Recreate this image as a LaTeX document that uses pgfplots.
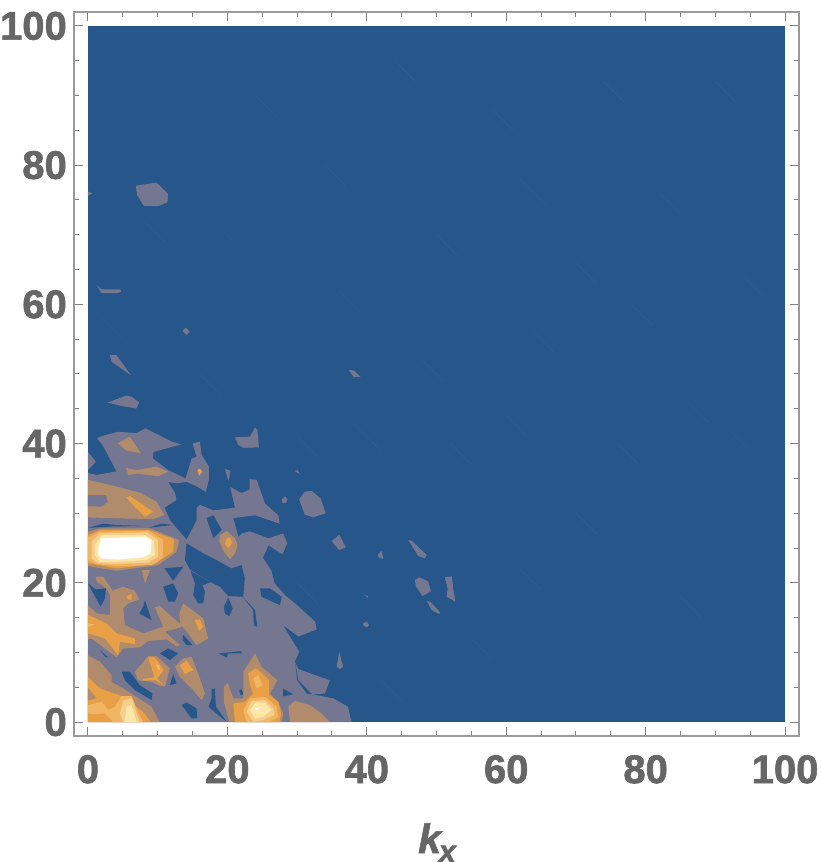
\documentclass[border=0pt]{standalone}
\usepackage{fontspec}
\setmainfont{Liberation Sans}[BoldFeatures={FakeBold=1.5},BoldItalicFeatures={FakeBold=1.5}]
\usepackage{pgfplots}
\pgfplotsset{compat=1.18}
\definecolor{framec}{HTML}{9A9A9A}
\definecolor{tickc}{HTML}{808080}
\definecolor{labelc}{HTML}{666666}
\definecolor{lev0}{HTML}{27568B}
\definecolor{lev1}{HTML}{75768F}
\definecolor{lev2}{HTML}{B08C6C}
\definecolor{lev3}{HTML}{E89F45}
\definecolor{lev4}{HTML}{F0B565}
\definecolor{lev5}{HTML}{F7CE8C}
\definecolor{lev6}{HTML}{FDE7A8}
\definecolor{lev7}{HTML}{FFFFFF}
\pgfplotsset{
  l0/.style={fill=lev0,draw=none,mark=none},
  l1/.style={fill=lev1,draw=none,mark=none},
  l2/.style={fill=lev2,draw=none,mark=none},
  l3/.style={fill=lev3,draw=none,mark=none},
  l4/.style={fill=lev4,draw=none,mark=none},
  l5/.style={fill=lev5,draw=none,mark=none},
  l6/.style={fill=lev6,draw=none,mark=none},
  l7/.style={fill=lev7,draw=none,mark=none},
}
\begin{document}
\begin{tikzpicture}
\path[use as bounding box] (-74pt,-126pt) rectangle (746pt,736pt);
\begin{axis}[
  at={(0pt,0pt)}, anchor=south west,
  scale only axis,
  width=725pt, height=724pt,
  xmin=-2, xmax=102, ymin=-2, ymax=102,
  xtick={0,20,...,100}, ytick={0,20,...,100},
  minor tick num=3,
  tick align=inside,
  major tick length=9pt, minor tick length=5.5pt,
  axis line style={draw=framec,line width=1.4pt},
  every tick/.style={draw=tickc,line width=1pt},
  /pgf/number format/assume math mode=true,
  tick label style={font=\fontsize{40}{44}\selectfont\bfseries,text=labelc,inner sep=0pt},
  xticklabel style={yshift=-19pt},
  yticklabel style={xshift=-7pt},
  xlabel={\textit{k}\kern-4pt\raisebox{-9pt}{\fontsize{31}{31}\selectfont\textit{x}}},
  xlabel style={font=\fontsize{41}{44}\selectfont\bfseries,text=labelc,at={(axis description cs:0.4745,-0.1616)},anchor=base west,inner sep=0pt},
  unbounded coords=jump,
]
% background level
\addplot[l0] coordinates {(0,0)(100,0)(100,100)(0,100)} --cycle;
% faint diagonal streaks of the shading
\addplot[white,opacity=0.05,line width=0.5pt,mark=none] coordinates {
(30,41)(33,38) (nan,nan) (38,43)(42,39) (nan,nan) (52,40)(55,37) (nan,nan) (60,44)(63,41) (nan,nan)
(8,72)(11,69) (nan,nan) (2,58)(5,55) (nan,nan) (24,90)(27,87) (nan,nan) (44,95)(47,92) (nan,nan)
(62,78)(66,74) (nan,nan) (78,60)(81,57) (nan,nan) (90,92)(93,89) (nan,nan) (70,30)(73,27) (nan,nan)
(85,18)(88,15) (nan,nan) (55,12)(58,9) (nan,nan) (42,6)(45,3) (nan,nan) (92,42)(95,39) (nan,nan)
(36,62)(39,59) (nan,nan) (50,70)(53,67) (nan,nan) (74,92)(77,89) (nan,nan) (16,50)(19,47) (nan,nan)
(64,56)(67,53) (nan,nan) (30,20)(33,17) (nan,nan) (82,76)(85,73) (nan,nan) (94,64)(97,61) (nan,nan)
(20,70)(23,67) (nan,nan) (34,80)(37,77) (nan,nan) (58,88)(61,85) (nan,nan) (70,66)(73,63) (nan,nan)
(48,52)(51,49) (nan,nan) (86,46)(89,43) (nan,nan) (76,40)(79,37) (nan,nan) (62,22)(65,19) (nan,nan)
};
% main lowest contour
\addplot[l1] coordinates {(0,0)(37.8,0)(37.3,2.2)(35.2,3.4)(32.1,4.0)(34.0,4.1)(34.7,6.0)(30.2,7.6)(29.7,8.7)(30.3,10.1)(28.0,13.9)(30.2,12.3)(32.8,13.3)(32.6,14.4)(30.0,16.8)(28.3,18.2)(26.8,19.9)(26.3,21.8)(25.1,23.6)(25.9,25.4)(27.9,24.1)(28.6,25.7)(28.0,27.1)(25.9,26.4)(23.2,27.4)(22.1,27.1)(21.6,26.6)(20.85,29.3)(24.0,29.7)(27.5,28.5)(27.3,29.7)(25.4,31.4)(24.2,34.8)(23.2,34.9)(23.2,33.4)(22.0,32.9)(20.4,33.8)(21.1,30.8)(18.0,30.4)(16.07,31.2)(15.6,30.7)(15.6,29.0)(14.15,26.2)(11.76,29.0)(11.0,30.8)(12.7,31.9)(12.5,32.9)(11.5,34.5)(12.7,34.3)(14.15,34.5)(15.35,34.0)(16.9,33.1)(17.35,34.8)(17.35,36.7)(16.3,38.4)(16.06,40.3)(15.0,40.0)(15.6,38.1)(14.9,37.9)(14.0,35.0)(11.5,36.2)(9.3,37.9)(9.4,38.8)(13.4,39.9)(12.0,40.3)(8.2,42.2)(7.0,41.5)(4.35,41.7)(2.4,41.2)(1.3,40.8)(2.2,39.6)(4.1,36.0)(1.15,35.5)(0,35.8)} --cycle;
\addplot[l1] coordinates {(0,38.8)(1.15,37.4)(0,36.2)} --cycle;
% islands of the lowest contour
\addplot[l1] coordinates {(21.1,40.9)(23.24,41.0)(23.96,42.3)(24.3,41.95)(24.53,39.46)(22.3,39.4)(21.57,39.8)} --cycle;
\addplot[l1] coordinates {(19.66,36.35)(20.47,36.1)(20.13,34.6)} --cycle;
\addplot[l1] coordinates {(29.6,36.1)(30.1,36.2)(30.4,35.6)} --cycle;
\addplot[l1] coordinates {(27.8,32.0)(28.26,32.4)(28.64,32.0)(28.4,31.5)(27.9,31.5)} --cycle;
\addplot[l1] coordinates {(30.3,32.0)(31.1,33.1)(32.1,33.2)(33.4,32.1)(34.1,30.0)(32.3,29.4)(31.1,29.8)} --cycle;
\addplot[l1] coordinates {(34.95,26.0)(36.05,26.9)(37.0,25.1)(36.05,24.7)} --cycle;
\addplot[l1] coordinates {(41.55,24.0)(42.1,24.6)(42.4,23.5)(41.9,23.5)} --cycle;
\addplot[l1] coordinates {(45.96,26.15)(46.44,26.06)(48.6,24.0)(48.35,23.5)(47.4,23.85)} --cycle;
\addplot[l1] coordinates {(46.9,20.4)(47.6,20.8)(48.8,20.2)(49.2,18.8)(48.0,18.1)(47.06,19.45)} --cycle;
\addplot[l1] coordinates {(51.2,20.8)(52.2,20.9)(52.4,19.2)(52.7,17.3)(51.46,18.0)(51.6,19.2)} --cycle;
\addplot[l1] coordinates {(48.6,17.4)(49.07,17.3)(50.5,15.8)(50.4,15.5)(49.3,16.1)} --cycle;
\addplot[l1] coordinates {(39.74,18.25)(40.2,18.15)(40.07,17.87)} --cycle;
\addplot[l1] coordinates {(39.5,14.2)(40.0,14.4)(40.35,13.9)(40.0,13.6)(39.5,13.9)} --cycle;
\addplot[l1] coordinates {(36.05,10.1)(36.6,7.95)(36.15,7.6)(35.67,7.95)} --cycle;
\addplot[l1] coordinates {(37.4,50.6)(38.2,50.5)(39.1,49.6)(38.1,49.6)} --cycle;
\addplot[l1] coordinates {(6.87,77.05)(9.84,77.5)(11.5,75.85)(11.4,74.65)(10.08,74.1)(8.0,74.17)(7.06,75.7)} --cycle;
\addplot[l1] coordinates {(0,76.2)(0.66,75.95)(0,75.6)} --cycle;
\addplot[l1] coordinates {(1.23,62.8)(1.95,62.15)(4.58,62.15)(4.82,61.9)(4.34,61.6)(1.95,61.6)} --cycle;
\addplot[l1] coordinates {(13.56,56.2)(14.04,56.65)(14.6,56.07)(14.14,55.6)} --cycle;
\addplot[l1] coordinates {(3.14,52.7)(4.1,52.7)(6.16,49.84)(3.4,51.75)} --cycle;
\addplot[l1] coordinates {(2.81,45.9)(5.53,46.9)(6.25,46.75)(7.35,45.9)(6.97,45.05)(4.8,45.4)} --cycle;
% holes in the main contour
\addplot[l0] coordinates {(17.0,29.3)(18.0,29.7)(19.2,27.6)(18.0,26.4)} --cycle;
\addplot[l0] coordinates {(14.15,25.67)(16.54,24.23)(18.45,23.27)(20.6,22.07)(22.04,22.55)(22.5,20.64)(22.28,18.0)(20.13,18.1)(18.93,19.44)(17.5,20.16)(14.63,21.93)(13.9,23.27)} --cycle;
\addplot[l0] coordinates {(14.7,21.74)(17.59,20.11)(16.44,19.63)(16.78,18.72)(16.54,17.05)(15.82,17.05)(15.1,18.24)(15.35,19.92)} --cycle;
\addplot[l0] coordinates {(20.13,17.9)(20.75,16.33)(20.27,15.2)(19.65,15.6)(19.5,16.57)} --cycle;
\addplot[l0] coordinates {(22.2,18)(23.96,16.1)(24.3,13.7)(23.8,13.9)(23.7,16.1)} --cycle;
\addplot[l0] coordinates {(24.67,19.2)(26.1,19.2)(27.8,18.0)(27.54,16.8)(24.9,18.0)} --cycle;
\addplot[l0] coordinates {(0,19.92)(1.14,19.06)(2.58,19.2)(2.43,17.77)(1.81,16.57)} --cycle;
\addplot[l0] coordinates {(8.17,17.53)(9.13,14.65)(7.36,15.61)(7.93,16.57)} --cycle;
\addplot[l0] coordinates {(10.8,19.45)(12.23,19.92)(12.95,18.5)(12.47,17.3)(11.5,17.3)} --cycle;
\addplot[l0] coordinates {(11.0,22.1)(13.7,22.3)(12.2,20.3)} --cycle;
\addplot[l0] coordinates {(10.32,9.87)(11.52,10.58)(12.95,9.87)(11.76,8.91)} --cycle;
\addplot[l0] coordinates {(13.67,12.5)(15.0,11.06)(14.15,11.06)(13.57,11.78)} --cycle;
\addplot[l0] coordinates {(18.7,9.86)(22.05,10.2)(22.05,9.86)(20.13,9.86)(19.9,9.3)} --cycle;
\addplot[l0] coordinates {(1.72,10.34)(2.91,9.29)(2.44,9.4)} --cycle;
\addplot[l0] coordinates {(4.83,7.23)(6.02,7.23)(7.45,5.3)(9.27,4.1)(9.13,3.16)(6.74,4.6)(5.3,6.0)} --cycle;
\addplot[l0] coordinates {(11.76,5.3)(12.23,6.9)(12.7,5.55)} --cycle;
\addplot[l0] coordinates {(13.43,2.44)(14.15,2.82)(15.58,1.96)(15.68,0.52)(14.86,0.52)} --cycle;
\addplot[l0] coordinates {(17.74,4.8)(18.2,4.8)(18.36,2.2)(19.9,0.05)(17.5,2.0)(17.3,2.2)(17.74,3.4)} --cycle;
\addplot[l0] coordinates {(21.7,4.5)(22.05,4.7)(22.3,4.0)(21.9,3.9)} --cycle;
\addplot[l0] coordinates {(28.0,4.8)(29.45,4.0)(28.0,3.7)} --cycle;
\addplot[l0] coordinates {(29.7,8.7)(30.03,6.0)(31.4,4.1)(32.1,4.0)(30.2,6.0)} --cycle;
\addplot[l0] coordinates {(0,27.9)(2.2,28.5)(4.1,28.3)(7.9,28.17)(3.6,28.1)} --cycle;
\addplot[l0] coordinates {(8.65,27.9)(10.56,28.5)(12.2,28.3)(10.3,28.1)} --cycle;
% second contour
\addplot[l2] coordinates {(4.25,40.04)(6.0,41.0)(7.6,38.6)(5.55,39.0)} --cycle;
\addplot[l2] coordinates {(5.45,36.5)(6.98,36.2)(9.84,36.7)(11.5,35.96)(10.08,35.3)(7.2,35.7)(5.8,35.5)} --cycle;
\addplot[l2] coordinates {(0,34.8)(3.63,33.95)(7.45,32.95)(9.84,31.65)(10.94,29.74)(9.37,29.16)(4.35,29.26)(0,29.4)} --cycle;
\addplot[l1] coordinates {(0,32.6)(2.58,32.6)(2.82,31.65)(1.96,30.94)(0,31.0)} --cycle;
\addplot[l3] coordinates {(5.45,32.3)(6.02,32.47)(9.37,30.2)(8.17,29.5)(6.74,30.9)} --cycle;
\addplot[l2] coordinates {(18.94,26.87)(19.9,27.44)(21.1,26.4)(21.47,25.43)(21.1,24.23)(20.37,23.4)(19.5,24.47)(18.84,25.9)} --cycle;
\addplot[l3] coordinates {(19.8,26.24)(20.27,26.6)(20.7,25.76)(20.13,24.95)(19.66,25.57)} --cycle;
\addplot[l3] coordinates {(15.7,36.2)(16.06,36.4)(16.4,35.97)(15.96,35.4)} --cycle;
% peak near (5,25)
\addplot[l2] coordinates {(7.7,21.84)(8.9,21.84)(8.2,19.9)} --cycle;
\addplot[l2] coordinates {(0,27.35)(1.72,27.82)(8.9,27.82)(13.1,26.15)(12.7,24.47)(10.1,22.55)(4.1,21.74)(0,22.4)} --cycle;
\addplot[l3] coordinates {(0,26.85)(1.72,27.58)(8.79,27.58)(12.33,26.24)(12.23,24.47)(9.6,22.7)(4.1,22.07)(0,22.8)} --cycle;
\addplot[l4] coordinates {(0,26.5)(1.72,27.34)(8.65,27.49)(10.8,26.15)(10.8,23.66)(9.13,22.55)(4.1,22.41)(1.24,22.7)(0,23.27)} --cycle;
\addplot[l5] coordinates {(.52,25.9)(1.72,27.1)(8.41,27.25)(10.08,26.15)(10.08,23.75)(8.65,22.9)(4.1,22.7)(1.48,22.8)(.52,23.5)} --cycle;
\addplot[l6] coordinates {(1.0,25.43)(1.96,26.87)(8.17,26.87)(9.46,26.05)(9.6,24.0)(8.4,23.27)(4.35,23.03)(1.72,23.03)(1.0,24.0)} --cycle;
\addplot[l7] coordinates {(1.96,23.5)(4.35,23.37)(7.93,23.66)(8.98,24.23)(9.13,26.15)(8.17,26.63)(1.96,26.4)(1.48,24.95)(1.48,24.0)} --cycle;
% lower left band
\addplot[l2] coordinates {(0,16.8)(1.24,15.6)(3.15,15.4)(3.15,18.25)(2.67,19.2)(1.24,20.2)(1.14,20.88)(2.2,20.88)(3.53,18.87)(5.06,19.45)(6.74,18.87)(7.36,17.6)(5.78,17.05)(5.06,16.33)(5.3,13.94)(7.93,12.74)(10.8,13.7)(9.6,16.5)(10.32,16.67)(13.67,13.7)(11.04,12.98)(13.2,11.06)(12.7,10.9)(11.28,11.88)(8.65,11.64)(7.45,10.73)(5.06,10.58)(4.1,9.3)(0.52,12.0)(0,11.9)} --cycle;
\addplot[l3] coordinates {(0,15.4)(2.67,14.18)(4.1,12.74)(6.74,12.02)(6.74,11.2)(4.59,11.54)(4.35,9.6)(2.44,12.02)(0,12.74)} --cycle;
\addplot[l4] coordinates {(0,14.2)(1.0,14.0)(0,13.7)} --cycle;
\addplot[l3] coordinates {(5.54,18.1)(6.26,18.4)(6.26,17.6)(5.78,17.6)} --cycle;
\addplot[l2] coordinates {(13.1,15.6)(13.67,17.05)(16.54,14.9)(17.25,12.0)(15.58,11.06)(14.15,13.0)(13.2,14.2)} --cycle;
\addplot[l3] coordinates {(15.34,14.65)(16.06,14.75)(16.54,13.7)(15.96,13.1)} --cycle;
\addplot[l2] coordinates {(8.65,9.48)(9.84,9.48)(11.76,7.7)(11.04,5.07)(10.08,5.3)(9.13,5.8)(7.2,6.0)(6.74,7.23)} --cycle;
\addplot[l3] coordinates {(8.65,9.3)(9.6,9.3)(10.9,7.47)(9.94,6.27)(10.8,5.3)(9.75,6.03)(7.93,5.94)(7.93,6.2)(9.56,6.4)} --cycle;
\addplot[l4] coordinates {(9.75,8.33)(10.23,8.19)(10.37,7.47)(9.99,7.57)} --cycle;
\addplot[l2] coordinates {(12.47,7.95)(13.67,9.15)(14.86,9.39)(16.06,6.27)(16.78,4.1)(16.3,3.16)(14.86,4.84)(13.2,6.51)} --cycle;
\addplot[l3] coordinates {(13.2,8.19)(14.15,8.81)(15.1,7.47)(13.9,6.9)} --cycle;
% peak near (24,2)
\addplot[l2] coordinates {(23.96,9.87)(24.9,7.95)(27.16,6.03)(26.1,4.1)(27.3,2.9)(28.0,1.24)(27.8,0)(20.37,0)(20.13,.52)(19.5,2.9)(19.5,5.07)(20.04,5.65)(20.85,3.4)(22.3,3.4)(22.3,7.23)} --cycle;
\addplot[l3] coordinates {(23.0,7.0)(24.1,7.8)(26.0,6.03)(26.0,3.9)(27.3,2.9)(27.7,1.24)(27.5,0)(21.1,0)(20.85,2.68)(22.5,2.9)(23.7,4.1)(23.24,5.3)} --cycle;
\addplot[l4] coordinates {(23.72,6.27)(24.44,6.75)(25.06,5.3)(24.2,4.84)} --cycle;
\addplot[l4] coordinates {(22.3,1.72)(23.24,3.4)(25.4,3.64)(27.06,2.2)(27.3,.76)(26.1,0)(22.76,0)} --cycle;
\addplot[l5] coordinates {(22.76,1.5)(23.5,3.06)(25.4,3.16)(26.6,1.96)(26.7,1.0)(25.15,.28)(23.72,.05)} --cycle;
\addplot[l6] coordinates {(23.24,1.72)(23.96,2.78)(25.4,2.78)(26.35,1.72)(25.15,.76)(23.96,.52)} --cycle;
\addplot[l7] coordinates {(23.96,1.96)(24.67,2.1)(24.2,1.72)} --cycle;
\addplot[l2] coordinates {(28.74,2.2)(29.7,3.06)(31.85,2.44)(33.5,1.24)(34.7,0)(29.0,0)} --cycle;
% peak at the origin corner
\addplot[l2] coordinates {(0,9.6)(1.72,8.67)(3.39,6.75)(3.39,5.79)(5.06,4.84)(9.13,2.2)(10.3,0)(0,0)} --cycle;
\addplot[l3] coordinates {(0,6.51)(1.72,4.84)(4.83,3.73)(7.93,1.48)(9.0,0)(0,0)} --cycle;
\addplot[l2] coordinates {(0,5.0)(1.24,3.4)(0,3.1)} --cycle;
\addplot[l4] coordinates {(0,2.44)(1.96,2.92)(2.91,1.72)(3.87,2.2)(4.83,3.73)(6.26,3.73)(7.2,1.48)(7.93,0)(3.63,0)(2.44,1.24)(.76,1.15)(0,1.24)} --cycle;
\addplot[l5] coordinates {(5.06,3.06)(6.26,3.4)(6.98,1.24)(7.45,0)(5.06,0)(4.59,1.24)} --cycle;
\addplot[l6] coordinates {(5.54,2.2)(6.26,2.44)(6.98,0)(5.3,0)} --cycle;
\end{axis}
\end{tikzpicture}
\end{document}
